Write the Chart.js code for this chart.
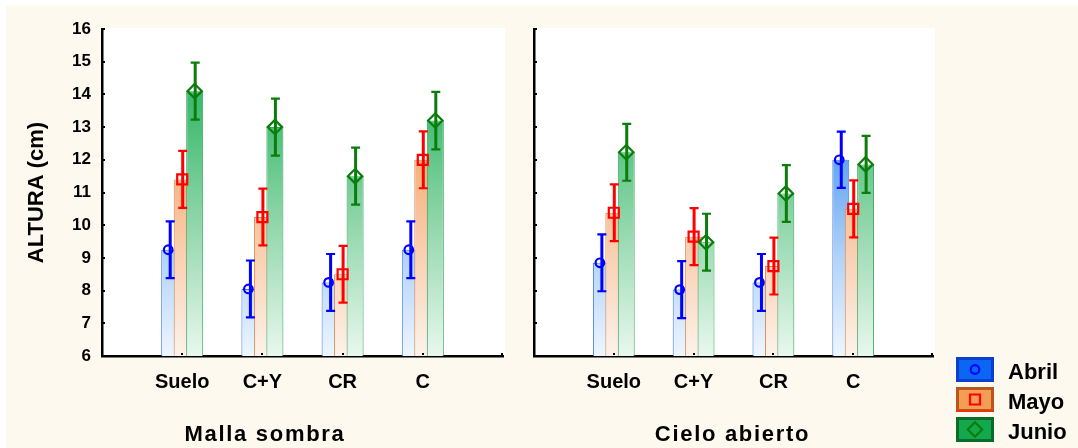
<!DOCTYPE html>
<html>
<head>
<meta charset="utf-8">
<script src="https://cdn.jsdelivr.net/npm/chart.js@4.4.1/dist/chart.umd.min.js"></script>
<style>
  html, body { margin: 0; padding: 0; background: #ffffff; width: 1078px; height: 448px; overflow: hidden; }
  #bg { position: absolute; left: 6px; top: 5px; width: 1072px; height: 443px; background: #fef9ee; }
  #w1 { position: absolute; left: 0; top: 0; width: 530px; height: 448px; }
  #w2 { position: absolute; left: 520px; top: 0; width: 558px; height: 448px; }
</style>
</head>
<body>
<div id="bg"></div>
<div id="w1"><canvas id="c1" width="530" height="448"></canvas></div>
<div id="w2"><canvas id="c2" width="558" height="448"></canvas></div>
<script>
// ---------------- DATA ----------------
const categories = ['Suelo', 'C+Y', 'CR', 'C'];
const seriesNames = ['Abril', 'Mayo', 'Junio'];
const yMin = 6;
const yMax = 16;
const yAxisTitle = 'ALTURA (cm)';
const panelTitles = ['Malla sombra', 'Cielo abierto'];

// Malla sombra
const mallaAbril = [9.25, 8.05, 8.25, 9.25];
const mallaMayo  = [11.4, 10.25, 8.5, 12.0];
const mallaJunio = [14.1, 13.0, 11.5, 13.2];
const mallaAbrilErr = [0.87, 0.87, 0.87, 0.87];
const mallaMayoErr  = [0.87, 0.87, 0.87, 0.87];
const mallaJunioErr = [0.87, 0.87, 0.87, 0.88];

// Cielo abierto
const cieloAbril = [8.85, 8.03, 8.25, 12.0];
const cieloMayo  = [10.38, 9.65, 8.75, 10.5];
const cieloJunio = [12.23, 9.48, 10.97, 11.86];
const cieloAbrilErr = [0.87, 0.87, 0.87, 0.86];
const cieloMayoErr  = [0.87, 0.87, 0.87, 0.87];
const cieloJunioErr = [0.87, 0.87, 0.87, 0.87];

// ---------------- STYLE ----------------
const FONT = 'Arial, "Liberation Sans", Helvetica, sans-serif';
const barStops = [
  [[0, '#1f76f0'], [0.4, '#62a5f2'], [0.7, '#b2d3f8'], [1, '#eef6ff']],
  [[0, '#ef8c3c'], [0.4, '#f5b07c'], [0.7, '#f9d1b4'], [1, '#fdf2ea']],
  [[0, '#1fac58'], [0.3, '#4cbf79'], [0.55, '#86d3a3'], [1, '#e8f8ee']]
];
const barBorders = ['#3f7be0', '#d8864a', '#35a05a'];
const errColors = ['#0000ff', '#ff0000', '#0b7d0b'];
const markers = ['circle', 'square', 'diamond'];
const legendFill = ['#0b66f6', '#f59c55', '#13a84b'];
const legendBorder = ['#0b3fcf', '#b8561c', '#0b6b2a'];

function grad(stops) {
  return (c) => {
    const ch = c.chart, a = ch.chartArea;
    if (!a) return stops[0][1];
    const g = ch.ctx.createLinearGradient(0, a.top, 0, a.bottom);
    stops.forEach(([o, col]) => g.addColorStop(o, col));
    return g;
  };
}

function pad(arr) { return [null, ...arr, null]; }

function drawMarker(ctx, type, x, y, color) {
  ctx.save();
  ctx.strokeStyle = color;
  ctx.lineWidth = 2.2;
  ctx.beginPath();
  if (type === 'circle') {
    ctx.arc(x - 1.5, y, 4.3, 0, Math.PI * 2);
  } else if (type === 'square') {
    ctx.rect(x - 5, y - 5, 10, 10);
  } else {
    ctx.moveTo(x, y - 7.2); ctx.lineTo(x + 7.2, y); ctx.lineTo(x, y + 7.2); ctx.lineTo(x - 7.2, y); ctx.closePath();
  }
  ctx.stroke();
  ctx.restore();
}

const panelPlugin = {
  id: 'panel',
  beforeDraw(chart) {
    const a = chart.chartArea, ctx = chart.ctx;
    ctx.save();
    ctx.fillStyle = '#ffffff';
    ctx.fillRect(a.left, a.top - 1, a.right - a.left + 2, a.bottom - a.top + 1);
    ctx.restore();
  },
  beforeDatasetsDraw(chart) {
    const ctx = chart.ctx, a = chart.chartArea;
    // draw bars left-to-right so later series sit on top
    ctx.save();
    ctx.beginPath();
    ctx.rect(a.left, a.top, a.right - a.left, a.bottom - a.top);
    ctx.clip();
    chart.data.datasets.forEach((ds, i) => {
      const m = chart.getDatasetMeta(i);
      if (!m.hidden) m.controller.draw();
    });
    ctx.restore();
    const ys = chart.scales.y;
    chart.data.datasets.forEach((ds, i) => {
      const m = chart.getDatasetMeta(i);
      m.data.forEach((bar, j) => {
        const v = ds.data[j];
        if (v === null || v === undefined) return;
        const e = ds.errors[j];
        const x = bar.x + 0.5;
        const yt = ys.getPixelForValue(v + e);
        const yb = ys.getPixelForValue(v - e);
        const ym = ys.getPixelForValue(v);
        ctx.save();
        ctx.strokeStyle = errColors[i];
        ctx.lineWidth = 3;
        ctx.beginPath(); ctx.moveTo(x, yt); ctx.lineTo(x, yb); ctx.stroke();
        ctx.lineWidth = 2.2;
        ctx.beginPath();
        ctx.moveTo(x - 4.5, yt); ctx.lineTo(x + 4.5, yt);
        ctx.moveTo(x - 4.5, yb); ctx.lineTo(x + 4.5, yb);
        ctx.stroke();
        ctx.restore();
        drawMarker(ctx, markers[i], bar.x, ym, errColors[i]);
      });
    });
    return false;
  },
  afterDraw(chart) {
    const ctx = chart.ctx, a = chart.chartArea;
    const opts = chart.options.plugins.panel;
    // small tick marks
    ctx.save();
    ctx.fillStyle = '#000';
    const ys = chart.scales.y;
    for (let v = yMin + 1; v <= yMax; v++) {
      const py = Math.round(ys.getPixelForValue(v));
      ctx.fillRect(a.left + 1, py - 1, 2, 2);
    }
    const xs = chart.scales.x;
    for (let k = 1; k <= categories.length; k++) {
      const px = Math.round(xs.getPixelForValue(k));
      ctx.fillRect(px - 1, a.bottom - 3, 2, 2);
    }
    ctx.fillRect(a.right - 2, a.bottom - 3, 2, 2);
    // panel title
    ctx.font = 'bold 22px ' + FONT;
    ctx.letterSpacing = '1.7px';
    ctx.textAlign = 'center';
    ctx.textBaseline = 'alphabetic';
    ctx.fillText(opts.title, opts.titleX, 441);
    ctx.restore();

    if (opts.legend) {
      ctx.save();
      seriesNames.forEach((name, i) => {
        const bx = 436, by = 357 + i * 30, bw = 38, bh = 25;
        ctx.fillStyle = legendFill[i];
        ctx.fillRect(bx, by, bw, bh);
        ctx.strokeStyle = legendBorder[i];
        ctx.lineWidth = 3;
        ctx.strokeRect(bx + 1.5, by + 1.5, bw - 3, bh - 3);
        if (i === 1) {
          ctx.fillStyle = '#ff2a00';
          ctx.fillRect(bx, by + bh - 1.5, bw, 1.5);
        }
        drawMarker(ctx, markers[i], bx + bw / 2 + (i === 0 ? 1.5 : 0), by + bh / 2, errColors[i]);
        ctx.fillStyle = '#000';
        ctx.font = 'bold 22px ' + FONT;
        ctx.textAlign = 'left';
        ctx.textBaseline = 'alphabetic';
        ctx.fillText(name, 488, by + 22);
      });
      ctx.restore();
    }
  }
};

function makeDatasets(vals, errs) {
  return seriesNames.map((name, i) => ({
    label: name,
    data: pad(vals[i]),
    errors: pad(errs[i]),
    backgroundColor: grad(barStops[i]),
    borderColor: barBorders[i],
    borderWidth: 1,
    borderSkipped: 'bottom'
  }));
}

function makeChart(id, vals, errs, cfg) {
  return new Chart(document.getElementById(id), {
    type: 'bar',
    data: { labels: ['', ...categories, ''], datasets: makeDatasets(vals, errs) },
    plugins: [panelPlugin],
    options: {
      responsive: false,
      animation: false,
      categoryPercentage: 0.4676,
      barPercentage: 1.36,
      layout: { padding: { left: 0, right: cfg.padRight, top: 29, bottom: 0 } },
      plugins: {
        legend: { display: false },
        tooltip: { enabled: false },
        panel: { title: cfg.title, titleX: cfg.titleX, legend: cfg.legend }
      },
      scales: {
        x: {
          type: 'category',
          offset: false,
          grid: { display: true, drawOnChartArea: false, drawTicks: false, color: 'rgba(0,0,0,0)' },
          border: { display: true, color: '#000', width: 2.5 },
          ticks: { color: '#000', font: { family: FONT, size: 20, weight: 'bold' }, padding: 14, autoSkip: false, maxRotation: 0 },
          afterFit(s) { s.height = 92; }
        },
        y: {
          min: yMin, max: yMax,
          grid: { display: true, drawOnChartArea: false, drawTicks: false, color: 'rgba(0,0,0,0)' },
          border: { display: true, color: '#000', width: 2.5 },
          ticks: { display: cfg.showY, stepSize: 1, color: '#000', font: { family: FONT, size: 17, weight: 'bold' }, padding: 11 },
          title: { display: cfg.showY, text: yAxisTitle, color: '#000', font: { family: FONT, size: 22, weight: 'bold' }, padding: { top: 24, bottom: 0 } },
          afterFit(s) { s.width = cfg.yWidth; }
        }
      }
    }
  });
}

makeChart('c1',
  [mallaAbril, mallaMayo, mallaJunio],
  [mallaAbrilErr, mallaMayoErr, mallaJunioErr],
  { padRight: 27, yWidth: 102, showY: true, title: panelTitles[0], titleX: 265, legend: false });

makeChart('c2',
  [cieloAbril, cieloMayo, cieloJunio],
  [cieloAbrilErr, cieloMayoErr, cieloJunioErr],
  { padRight: 145, yWidth: 12, showY: false, title: panelTitles[1], titleX: 212.5, legend: true });
</script>
</body>
</html>
